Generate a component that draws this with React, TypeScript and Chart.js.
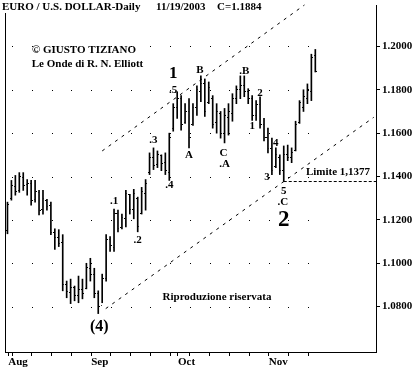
import React, { useEffect, useRef } from 'react';
import { Chart, registerables } from 'chart.js';
Chart.register(...registerables);

// ---- data (EUR/USD daily, 1 Aug 2003 .. 19 Nov 2003, trading-day index) ----
const highs = [1.1282,1.1382,1.1405,1.1418,1.1418,1.1386,1.1382,1.1382,1.1336,1.1336,1.1295,1.1282,1.1159,1.1155,1.1132,1.0918,1.0927,1.0895,1.0941,1.0927,1.1000,
  1.1023,1.0977,1.0873,1.0950,1.1132,1.1123,1.1250,1.1245,1.1227,1.1336,1.1318,1.1341,1.1305,1.1350,1.1386,1.1509,1.1532,1.1518,1.1500,1.1509,1.1600,1.1736,
  1.1791,1.1773,1.1736,1.1759,1.1736,1.1818,1.1864,1.1850,1.1836,1.1773,1.1736,1.1700,1.1714,1.1736,1.1782,1.1818,1.1864,1.1864,1.1805,1.1773,1.1750,1.1768,1.1668,1.1623,
  1.1577,1.1532,1.1500,1.1541,1.1545,1.1532,1.1655,1.1750,1.1800,1.1827,1.1964,1.1986];
const lows = [1.1136,1.1291,1.1314,1.1327,1.1336,1.1314,1.1268,1.1282,1.1223,1.1227,1.1245,1.1132,1.1064,1.1077,1.0873,1.0841,1.0814,1.0827,1.0818,1.0836,1.0882,
  1.0918,1.0841,1.0768,1.0818,1.0918,1.1055,1.1055,1.1145,1.1159,1.1168,1.1227,1.1205,1.1145,1.1227,1.1245,1.1409,1.1432,1.1441,1.1427,1.1409,1.1382,1.1609,
  1.1668,1.1614,1.1645,1.1532,1.1636,1.1682,1.1745,1.1677,1.1736,1.1623,1.1600,1.1577,1.1555,1.1591,1.1655,1.1736,1.1759,1.1768,1.1736,1.1659,1.1659,1.1623,1.1564,1.1509,
  1.1409,1.1441,1.1409,1.1377,1.1473,1.1464,1.1518,1.1645,1.1700,1.1736,1.1750,1.1882];
const opens = [1.1150,1.1300,1.1355,1.1335,1.1395,1.1365,1.1370,1.1295,1.1325,1.1250,1.1290,1.1265,1.1140,1.1120,1.1095,1.0900,1.0865,1.0890,1.0850,1.0880,1.0885,
  1.0975,1.0950,1.0860,1.0805,1.0930,1.1110,1.1075,1.1230,1.1165,1.1205,1.1315,1.1250,1.1300,1.1230,1.1320,1.1420,1.1490,1.1455,1.1495,1.1465,1.1420,1.1620,
  1.1720,1.1760,1.1650,1.1700,1.1640,1.1720,1.1790,1.1830,1.1740,1.1760,1.1650,1.1690,1.1600,1.1670,1.1690,1.1760,1.1800,1.1820,1.1790,1.1760,1.1680,1.1730,1.1640,1.1580,
  1.1530,1.1445,1.1490,1.1430,1.1500,1.1490,1.1520,1.1650,1.1720,1.1760,1.1790,1.1960];
const closes = [1.1270,1.1360,1.1330,1.1400,1.1360,1.1370,1.1290,1.1330,1.1245,1.1300,1.1260,1.1140,1.1120,1.1090,1.0900,1.0870,1.0890,1.0850,1.0880,1.0860,1.0980,
  1.0950,1.0860,1.0800,1.0930,1.1110,1.1080,1.1230,1.1160,1.1210,1.1320,1.1250,1.1320,1.1170,1.1330,1.1370,1.1490,1.1450,1.1500,1.1460,1.1430,1.1580,1.1720,
  1.1760,1.1640,1.1700,1.1580,1.1720,1.1800,1.1830,1.1700,1.1810,1.1640,1.1700,1.1600,1.1680,1.1700,1.1760,1.1800,1.1820,1.1790,1.1760,1.1680,1.1730,1.1640,1.1580,1.1530,
  1.1430,1.1500,1.1430,1.1500,1.1490,1.1510,1.1640,1.1740,1.1770,1.1800,1.1950,1.1884];

const monthLabels = ['Aug', 'Sep', 'Oct', 'Nov'];
const monthStartIndex = [0, 21, 43, 66];
const mondayIndex = [1, 6, 11, 16, 21, 26, 31, 36, 41, 46, 51, 56, 61, 66, 71, 76];
const yTickValues = [1.08, 1.10, 1.12, 1.14, 1.16, 1.18, 1.20];

// Elliott channel lines (trading-day index, price)
const channelUpperIdx = [24, 75.25];
const channelUpperPrice = [1.1518, 1.2191];
const channelLowerIdx = [24.9, 92.8];
const channelLowerPrice = [1.0791, 1.1673];
const limitIdx = [70, 93.4];
const limitPrice = 1.1377;

// wave labels
const smallLabelText = ['.5', 'B', '.B', '2', '.3', 'A', '.4', '.1', '.2', '1', 'C', '.A', '4', '3', '5', '.C'];
const smallLabelIdx = [42, 48.75, 60, 64, 37, 46, 41, 27, 33, 62, 54.75, 55, 68, 65.75, 70, 69.75];
const smallLabelPrice = [1.1800, 1.1891, 1.1886, 1.1786, 1.1568, 1.1500, 1.1359, 1.1286, 1.1105, 1.1632, 1.1509, 1.1459, 1.1555, 1.1395, 1.1332, 1.1282];
const bigLabelText = ['1', '(4)', '2'];
const bigLabelIdx = [42, 23.25, 70];
const bigLabelPrice = [1.1873, 1.0709, 1.1200];
const bigLabelSize = [17, 16, 23];

const titleParts = ['EURO / U.S. DOLLAR-Daily', '11/19/2003', 'C=1.1884'];
const limitText = 'Limite 1,1377';
const watermark = 'Riproduzione riservata';
const credit = ['\u00A9 GIUSTO TIZIANO', 'Le Onde di R. N. Elliott'];

const FONT = '"Liberation Serif", "Times New Roman", serif';
const TICK_SHIFT = 0.2;

function tickImage(side: 'left' | 'right') {
  const c = document.createElement('canvas');
  c.width = 3;
  c.height = 1;
  const g = c.getContext('2d')!;
  g.fillStyle = '#000';
  g.fillRect(side === 'left' ? 0 : 2, 0, 1, 1);
  return c;
}

const overlayPlugin = {
  id: 'overlay',
  beforeDatasetsDraw(chart: any) {
    const { ctx, scales } = chart;
    const x = scales.x, y = scales.y;
    ctx.save();
    ctx.fillStyle = '#000';
    yTickValues.forEach((v) => {
      const py = Math.round(y.getPixelForValue(v));
      mondayIndex.forEach((m) => {
        const px = Math.round(x.getPixelForValue(m + TICK_SHIFT));
        ctx.fillRect(px, py, 1, 1);
      });
    });
    ctx.restore();
  },
  afterDatasetsDraw(chart: any) {
    const { ctx, scales, chartArea } = chart;
    const x = scales.x, y = scales.y;
    ctx.save();
    ctx.fillStyle = '#000';
    ctx.textAlign = 'center';
    ctx.textBaseline = 'middle';
    ctx.font = `bold 11px ${FONT}`;
    smallLabelText.forEach((t, k) => {
      ctx.fillText(t, x.getPixelForValue(smallLabelIdx[k]), y.getPixelForValue(smallLabelPrice[k]));
    });
    bigLabelText.forEach((t, k) => {
      ctx.font = `bold ${bigLabelSize[k]}px ${FONT}`;
      ctx.fillText(t, x.getPixelForValue(bigLabelIdx[k]), y.getPixelForValue(bigLabelPrice[k]));
    });
    ctx.font = `bold 11px ${FONT}`;
    ctx.fillText(limitText, 338, 172);
    ctx.fillText(watermark, 217, 297);
    ctx.fillText(credit[0], 84, 50.5);
    ctx.fillText(credit[1], 87.5, 64);
    ctx.textAlign = 'left';
    ctx.textBaseline = 'alphabetic';
    ctx.fillText(titleParts[0], 2, 10);
    ctx.fillText(titleParts[1], 156, 10);
    ctx.fillText(titleParts[2], 217, 10);
    // left frame line
    ctx.fillRect(chartArea.left, 13, 1, chartArea.bottom - 13);
    ctx.restore();
  },
};

export default function App() {
  const ref = useRef<HTMLCanvasElement>(null);
  useEffect(() => {
    const idx = highs.map((_, i) => i);
    const openImg = tickImage('left');
    const closeImg = tickImage('right');
    const allTicks = Array.from(new Set([...monthStartIndex, ...mondayIndex])).sort((a, b) => a - b);
    const chart = new Chart(ref.current!, {
      type: 'bar',
      data: {
        datasets: [
          {
            type: 'bar',
            data: idx.map((i) => ({ x: i, y: [lows[i], highs[i]] })) as any,
            backgroundColor: '#000',
            borderWidth: 0,
            barThickness: 1,
            grouped: false,
          } as any,
          {
            type: 'scatter',
            data: idx.map((i) => ({ x: i, y: opens[i] })),
            pointStyle: openImg as any,
            pointRadius: 1,
          } as any,
          {
            type: 'scatter',
            data: idx.map((i) => ({ x: i, y: closes[i] })),
            pointStyle: closeImg as any,
            pointRadius: 1,
          } as any,
          {
            type: 'line',
            data: channelUpperIdx.map((v, k) => ({ x: v, y: channelUpperPrice[k] })),
            borderColor: '#000',
            borderWidth: 1,
            borderDash: [3, 5],
            pointRadius: 0,
            fill: false,
            clip: false,
          } as any,
          {
            type: 'line',
            data: channelLowerIdx.map((v, k) => ({ x: v, y: channelLowerPrice[k] })),
            borderColor: '#000',
            borderWidth: 1,
            borderDash: [3, 5],
            pointRadius: 0,
            fill: false,
          } as any,
          {
            type: 'line',
            data: limitIdx.map((v) => ({ x: v, y: limitPrice })),
            borderColor: '#000',
            borderWidth: 1,
            borderDash: [3, 2],
            pointRadius: 0,
            fill: false,
          } as any,
        ],
      },
      options: {
        responsive: false,
        animation: false,
        events: [],
        layout: { padding: 0 },
        plugins: { legend: { display: false }, tooltip: { enabled: false }, title: { display: false } },
        scales: {
          x: {
            type: 'linear',
            position: 'bottom',
            min: -0.625,
            max: 93.375,
            offset: false,
            grid: { display: true, drawOnChartArea: false, offset: false, color: '#000', tickLength: 4 },
            border: { display: true, color: '#000', width: 1 },
            afterBuildTicks: (scale: any) => {
              scale.ticks = allTicks.map((v) => ({ value: v + TICK_SHIFT }));
            },
            afterFit: (scale: any) => {
              scale.height = 16;
              scale.paddingLeft = 0;
              scale.paddingRight = 0;
            },
            ticks: {
              autoSkip: false,
              maxRotation: 0,
              minRotation: 0,
              align: 'start',
              padding: 0,
              color: '#000',
              font: { family: FONT, size: 11, weight: 'bold' },
              callback: (v: any) => {
                const k = monthStartIndex.indexOf(Math.round(Number(v) - TICK_SHIFT));
                return k >= 0 ? monthLabels[k] : '';
              },
            },
          },
          y: {
            type: 'linear',
            position: 'right',
            min: 1.2 - 310 / 2200,
            max: 1.2 + 42 / 2200,
            grid: { display: true, drawOnChartArea: false, color: '#000', tickLength: 4 },
            border: { display: true, color: '#000', width: 1 },
            afterBuildTicks: (scale: any) => {
              scale.ticks = yTickValues.map((v) => ({ value: v }));
            },
            afterFit: (scale: any) => {
              scale.width = 40;
              scale.paddingTop = 0;
              scale.paddingBottom = 0;
            },
            ticks: {
              padding: 2,
              color: '#000',
              font: { family: FONT, size: 11, weight: 'bold' },
              callback: (v: any) => Number(v).toFixed(4),
            },
          },
        },
      } as any,
      plugins: [overlayPlugin],
    });
    return () => chart.destroy();
  }, []);
  return (
    <div style={{ position: 'fixed', left: 0, top: 0, width: 416, height: 368, background: '#fff' }}>
      <canvas ref={ref} width={416} height={368} style={{ display: 'block' }} />
    </div>
  );
}
